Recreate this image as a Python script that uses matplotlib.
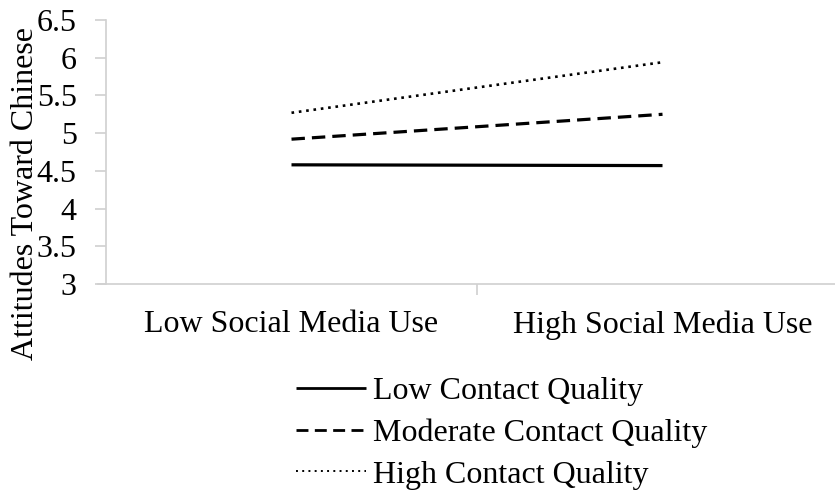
import matplotlib.pyplot as plt
from matplotlib.lines import Line2D

categories = ["Low Social Media Use", "High Social Media Use"]
series_names = ["Low Contact Quality", "Moderate Contact Quality", "High Contact Quality"]
low_quality = [4.58, 4.57]
moderate_quality = [4.92, 5.25]
high_quality = [5.27, 5.94]
y_ticks = [3, 3.5, 4, 4.5, 5, 5.5, 6, 6.5]
y_tick_labels = ["3", "3.5", "4", "4.5", "5", "5.5", "6", "6.5"]

plt.rcParams["font.family"] = ["Liberation Serif", "DejaVu Serif"]
fs = 23
grey = "#d0d0d0"

fig = plt.figure(figsize=(8.35, 4.9), dpi=100)
ax = fig.add_axes([106 / 835, 1 - 284 / 490, 742 / 835, 264 / 490])

x = [0.5, 1.5]
ax.plot(x, low_quality, color="black", lw=2.3, solid_capstyle="butt")
ax.plot(x, moderate_quality, color="black", lw=2.3, linestyle=(0, (4.2, 2.2)),
        dash_capstyle="butt")
ax.plot(x, high_quality, color="black", lw=1.9, linestyle=(0, (1, 1.8)))

ax.set_xlim(0, 2)
ax.set_ylim(3, 6.5)
ax.set_yticks(y_ticks)
ax.set_yticklabels(y_tick_labels)
ax.set_xticks([1])
ax.set_xticklabels([])
ax.set_xticks(x, minor=True)
ax.set_xticklabels(categories, minor=True)
ax.tick_params(axis="x", which="minor", length=0, pad=19, labelsize=fs)
ax.tick_params(axis="x", which="major", length=8, color=grey, width=1.2)
ax.tick_params(axis="y", length=8, color=grey, width=1.2, pad=13, labelsize=fs)

for side in ["top", "right"]:
    ax.spines[side].set_visible(False)
for side in ["left", "bottom"]:
    ax.spines[side].set_color(grey)
    ax.spines[side].set_linewidth(1.2)
ax.spines["bottom"].set_bounds(-0.022, 2)

fig.text(26 / 835, 1 - 194 / 490, "Attitudes Toward Chinese", rotation=90,
         ha="center", va="center", fontsize=fs)

# legend handles are drawn a bit finer than the plotted lines
handles = [
    Line2D([], [], color="black", lw=2.0, solid_capstyle="butt"),
    Line2D([], [], color="black", lw=2.0, linestyle=(0, (4.3, 2.3)), dash_capstyle="butt"),
    Line2D([], [], color="black", lw=1.4, linestyle=(0, (1, 2.2))),
]
fig.legend(handles, series_names, loc="upper left", bbox_to_anchor=(296 / 835, 1 - 377 / 490),
           frameon=False, fontsize=fs, handlelength=2.2, handletextpad=0.2,
           labelspacing=0.38, borderpad=0, borderaxespad=0)

fig.savefig("out.png", dpi=100)
